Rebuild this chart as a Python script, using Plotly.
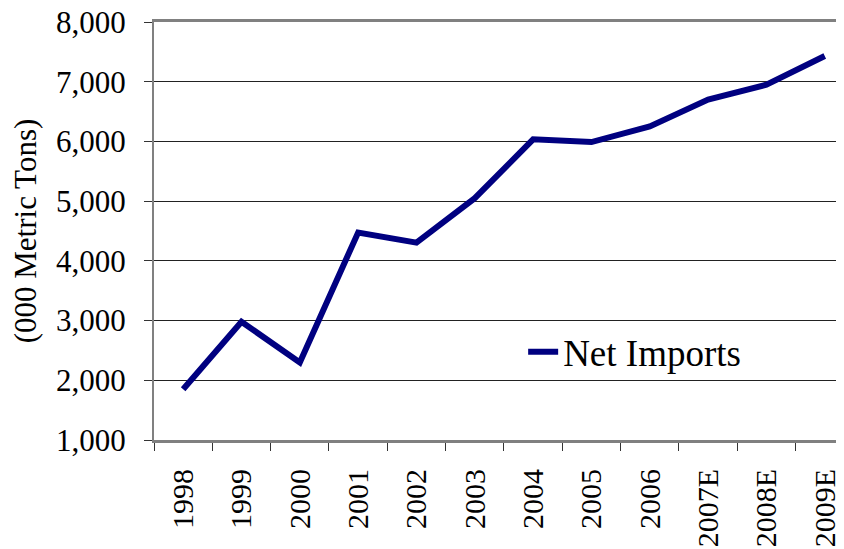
import plotly.graph_objects as go

# China net imports, thousand metric tons
years = ["1998", "1999", "2000", "2001", "2002", "2003",
         "2004", "2005", "2006", "2007E", "2008E", "2009E"]
net_imports = [1850, 2980, 2300, 4475, 4305, 5050,
               6035, 5990, 6250, 6700, 6950, 7430]

y_ticks = [1000, 2000, 3000, 4000, 5000, 6000, 7000, 8000]

serif = "Liberation Serif, Times New Roman, serif"

fig = go.Figure()

fig.add_trace(go.Scatter(
    x=years,
    y=net_imports,
    mode='lines',
    name='Net Imports',
    line=dict(color='#000080', width=6)
))

# page body has an 8px margin, so the figure is 8px smaller each way
fig.update_layout(
    width=836,
    height=541,
    margin=dict(l=146, r=0, t=14, b=109, autoexpand=False),
    paper_bgcolor='white',
    plot_bgcolor='white',
    font=dict(family=serif, size=31, color='black'),
    showlegend=True,
    legend=dict(
        x=0.535, y=0.21,
        xanchor='left', yanchor='middle',
        font=dict(size=37),
        bgcolor='rgba(0,0,0,0)',
    ),
)

fig.update_xaxes(
    type='category',
    range=[-0.5, 11.33],
    tickangle=-90,
    ticks='outside',
    tickson='boundaries',
    ticklen=8,
    tickcolor='#333333',
    showgrid=False,
    showline=True,
    linecolor='#808080',
    linewidth=3,
    mirror=True,
    ticklabelstandoff=14,
    ticklabeloverflow='allow',
    tickfont=dict(size=30),
)

fig.update_yaxes(
    range=[1000, 8000],
    tickvals=y_ticks,
    tickformat=',',
    ticks='outside',
    ticklen=8,
    tickcolor='#333333',
    showgrid=True,
    gridcolor='#222222',
    gridwidth=1,
    showline=True,
    linecolor='#808080',
    linewidth=2,
    zeroline=False,
    ticklabelstandoff=12,
    ticklabeloverflow='allow',
    tickfont=dict(size=31),
    title=dict(text='(000 Metric Tons)', font=dict(size=31), standoff=12),
)

fig.write_html("out.html")
